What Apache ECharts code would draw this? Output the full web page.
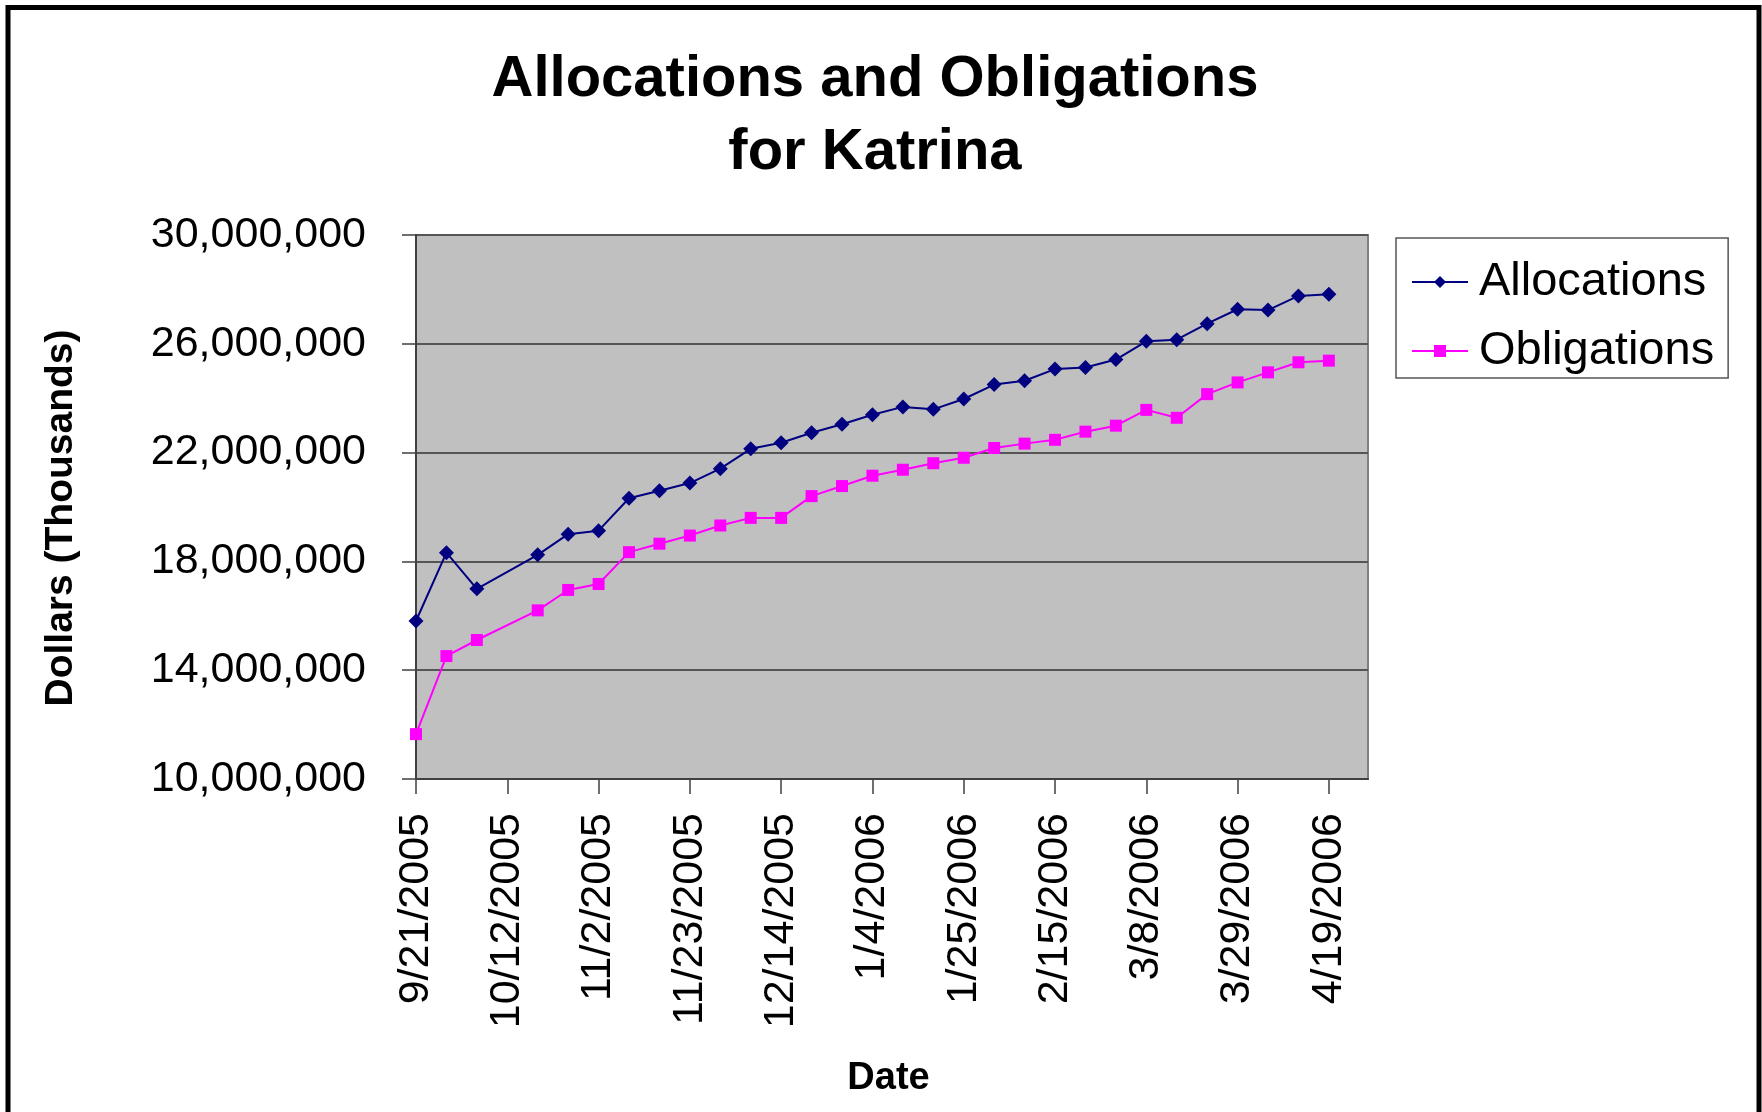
<!DOCTYPE html>
<html><head><meta charset="utf-8">
<script src="https://cdn.jsdelivr.net/npm/echarts@6/dist/echarts.min.js"></script>
<style>html,body{margin:0;padding:0;background:#fff}#c{width:1762px;height:1112px}</style>
</head><body><div id="c"></div>
<script>
// Weekly report dates (10/12/2005 has no reading)
const dates = ['9/21/2005','9/28/2005','10/5/2005','10/19/2005','10/26/2005','11/2/2005','11/9/2005','11/16/2005','11/23/2005','11/30/2005','12/7/2005','12/14/2005','12/21/2005','12/28/2005','1/4/2006','1/11/2006','1/18/2006','1/25/2006','2/1/2006','2/8/2006','2/15/2006','2/22/2006','3/1/2006','3/8/2006','3/15/2006','3/22/2006','3/29/2006','4/5/2006','4/12/2006','4/19/2006'];
const allocations = [15810000,18320000,16990000,18240000,19000000,19130000,20320000,20600000,20880000,21410000,22140000,22360000,22730000,23040000,23390000,23680000,23590000,23970000,24500000,24640000,25070000,25130000,25420000,26090000,26150000,26740000,27270000,27240000,27760000,27820000];
const obligations = [11650000,14520000,15110000,16200000,16950000,17170000,18340000,18650000,18950000,19320000,19600000,19600000,20400000,20770000,21150000,21370000,21610000,21810000,22170000,22330000,22470000,22770000,22990000,23570000,23280000,24150000,24580000,24950000,25320000,25380000];
const tickLabels = ['9/21/2005','10/12/2005','11/2/2005','11/23/2005','12/14/2005','1/4/2006','1/25/2006','2/15/2006','3/8/2006','3/29/2006','4/19/2006'];
const axisStart = '9/21/2005';
const axisEnd = '4/28/2006';
const yMin = 10000000, yMax = 30000000, yStep = 4000000;

function toDay(s) {
  const p = s.split('/').map(Number);
  return Date.UTC(p[2], p[0] - 1, p[1]) / 86400000;
}
const base = toDay(axisStart);
const off = s => toDay(s) - base;
const tickVals = tickLabels.map(off);
const labelMap = {};
tickLabels.forEach(s => { labelMap[off(s)] = s; });

const FONT = "'Liberation Sans', Arial, sans-serif";
const chart = echarts.init(document.getElementById('c'), null, {renderer: 'canvas'});
chart.setOption({
  animation: false,
  backgroundColor: '#ffffff',
  title: {
    text: 'Allocations and Obligations\nfor Katrina',
    left: 870, top: 38, textAlign: 'center',
    textStyle: {fontFamily: FONT, fontSize: 58, fontWeight: 'bold', color: '#000', lineHeight: 73}
  },
  legend: {
    orient: 'vertical',
    left: 1396, top: 238,
    padding: [17, 14, 0, 15],
    itemGap: 15,
    itemWidth: 56, itemHeight: 15,
    borderColor: '#555', borderWidth: 1.5,
    backgroundColor: '#fff',
    textStyle: {fontFamily: FONT, fontSize: 47, color: '#000', lineHeight: 54, padding: [0, 0, 0, 6]},
    data: ['Allocations', 'Obligations']
  },
  grid: {
    left: 416, right: 394, top: 235, bottom: 333,
    show: true, backgroundColor: '#C0C0C0', borderColor: '#808080', borderWidth: 2,
    containLabel: false
  },
  xAxis: {
    type: 'value',
    min: 0, max: off(axisEnd),
    name: 'Date', nameLocation: 'middle', nameGap: 281,
    nameTextStyle: {fontFamily: FONT, fontSize: 38, fontWeight: 'bold', color: '#000', padding: [0, 7, 0, 0]},
    axisLine: {show: true, onZero: false, lineStyle: {color: '#404040', width: 2}},
    axisTick: {show: true, length: 15, customValues: tickVals, lineStyle: {color: '#404040', width: 1.5}},
    axisLabel: {
      customValues: tickVals, rotate: 90, margin: 34,
      fontFamily: FONT, fontSize: 43, color: '#000',
      formatter: v => labelMap[v] || ''
    },
    splitLine: {show: false}
  },
  yAxis: {
    type: 'value',
    min: yMin, max: yMax, interval: yStep,
    name: 'Dollars (Thousands)', nameLocation: 'middle', nameGap: 335,
    nameTextStyle: {fontFamily: FONT, fontSize: 39, fontWeight: 'bold', color: '#000', padding: [0, 22, 0, 0]},
    axisLine: {show: true, lineStyle: {color: '#404040', width: 2}},
    axisTick: {show: true, length: 14, lineStyle: {color: '#404040', width: 1.5}},
    axisLabel: {margin: 50, fontFamily: FONT, fontSize: 43, color: '#000', padding: [6, 0, 0, 0]},
    splitLine: {show: true, lineStyle: {color: '#555555', width: 2}}
  },
  series: [
    {
      name: 'Allocations', type: 'line',
      data: dates.map((d, i) => [off(d), allocations[i]]),
      symbol: 'diamond', symbolSize: 15,
      lineStyle: {color: '#000080', width: 2},
      itemStyle: {color: '#000080'}
    },
    {
      name: 'Obligations', type: 'line',
      data: dates.map((d, i) => [off(d), obligations[i]]),
      symbol: 'rect', symbolSize: 12,
      lineStyle: {color: '#FF00FF', width: 2},
      itemStyle: {color: '#FF00FF'}
    }
  ],
  graphic: [{
    type: 'rect', z: 100, silent: true,
    shape: {x: 8, y: 7.5, width: 1751, height: 1200},
    style: {fill: 'none', stroke: '#000', lineWidth: 5}
  }]
});
</script></body></html>
